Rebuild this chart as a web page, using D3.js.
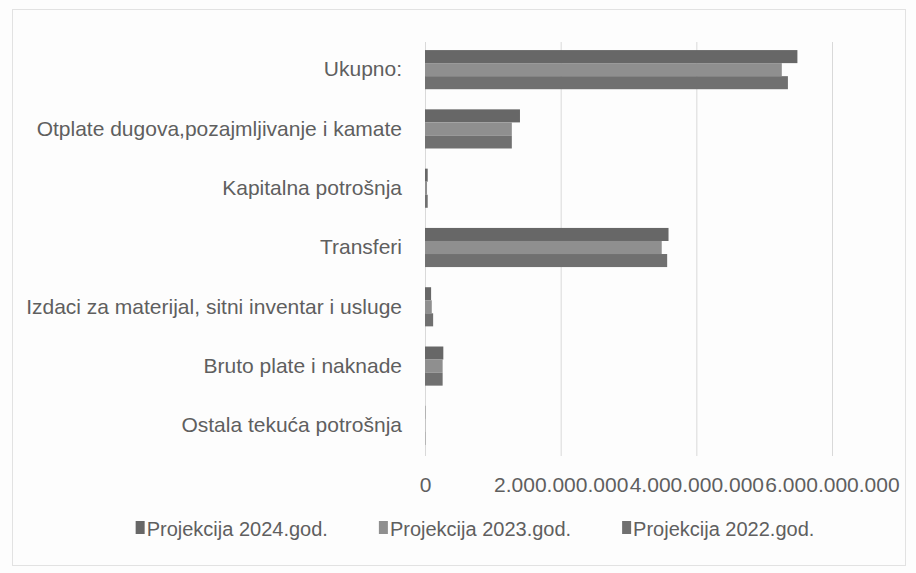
<!DOCTYPE html>
<html>
<head>
<meta charset="utf-8">
<script src="https://cdn.jsdelivr.net/npm/d3@7"></script>
<style>
  body { margin: 0; background: #fdfdfd; }
  text { font-family: "Liberation Sans", Arial, sans-serif; fill: #5f5f5f; }
</style>
</head>
<body>
<script>
'use strict';

// categories, top to bottom as in the chart
let categories = [
  'Ukupno:',
  'Otplate dugova,pozajmljivanje i kamate',
  'Kapitalna potrošnja',
  'Transferi',
  'Izdaci za materijal, sitni inventar i usluge',
  'Bruto plate i naknade',
  'Ostala tekuća potrošnja'
];

let seriesNames = ['Projekcija 2024.god.', 'Projekcija 2023.god.', 'Projekcija 2022.god.'];
let seriesColors = ['#676767', '#8f8f8f', '#707070'];

// values per category, same order as categories
let proj2024 = [5490000000, 1400000000, 40000000, 3590000000, 90000000, 270000000, 5000000];
let proj2023 = [5260000000, 1280000000, 30000000, 3490000000, 100000000, 260000000, 4000000];
let proj2022 = [5350000000, 1280000000, 40000000, 3570000000, 120000000, 260000000, 5000000];

let tickValues = [0, 2000000000, 4000000000, 6000000000];

let width = 916;
let height = 573;

let svg = d3.select('body').append('svg')
  .attr('width', width)
  .attr('height', height);

// faint frame of the chart area
svg.append('rect')
  .attr('x', 12.5)
  .attr('y', 9.5)
  .attr('width', 893)
  .attr('height', 556)
  .attr('fill', 'none')
  .attr('stroke', '#e2e2e2');

let x = d3.scaleLinear()
  .domain([0, 6000000000])
  .range([425, 832]);

let y0 = d3.scaleBand()
  .domain(categories)
  .range([40, 455])
  .paddingInner(0.34)
  .paddingOuter(0.17);

let y1 = d3.scaleBand()
  .domain(d3.range(seriesNames.length))
  .range([0, y0.bandwidth()]);

let fmt = (v) => d3.format(',')(v).replace(/,/g, '.');

// gridlines
svg.append('g')
  .attr('class', 'grid')
  .selectAll('line')
  .data(tickValues)
  .enter().append('line')
    .attr('x1', (d) => x(d) + 0.5)
    .attr('x2', (d) => x(d) + 0.5)
    .attr('y1', 42)
    .attr('y2', 456)
    .attr('stroke', '#d9d9d9')
    .attr('stroke-width', 1);

// x axis labels
let xAxis = d3.axisBottom(x)
  .tickValues(tickValues)
  .tickFormat(fmt)
  .tickSize(0)
  .tickPadding(0);

let xg = svg.append('g')
  .attr('transform', 'translate(0,477)')
  .call(xAxis);
xg.select('.domain').remove();
xg.selectAll('text')
  .attr('font-size', 21)
  .attr('font-family', '"Liberation Sans", Arial, sans-serif')
  .attr('fill', '#5f5f5f');

// category labels
let yAxis = d3.axisLeft(y0)
  .tickSize(0)
  .tickPadding(0);

let yg = svg.append('g')
  .attr('transform', 'translate(402,0)')
  .call(yAxis);
yg.select('.domain').remove();
yg.selectAll('text')
  .attr('font-size', 21)
  .attr('font-family', '"Liberation Sans", Arial, sans-serif')
  .attr('fill', '#5f5f5f');

// bars
let series = [proj2024, proj2023, proj2022];

let groups = svg.append('g')
  .attr('class', 'bars')
  .selectAll('g')
  .data(categories)
  .enter().append('g')
    .attr('transform', (d) => 'translate(0,' + y0(d) + ')');

groups.selectAll('rect')
  .data((d, i) => series.map((s, j) => ({s: j, v: s[i]})))
  .enter().append('rect')
    .attr('x', x(0))
    .attr('y', (d) => y1(d.s))
    .attr('width', (d) => x(d.v) - x(0))
    .attr('height', y1.bandwidth())
    .attr('fill', (d) => seriesColors[d.s]);

// legend
let legend = svg.append('g').attr('class', 'legend');
let items = legend.selectAll('g')
  .data(seriesNames)
  .enter().append('g');

items.append('rect')
  .attr('width', 9)
  .attr('height', 13)
  .attr('y', -15)
  .attr('fill', (d, i) => seriesColors[i]);

items.append('text')
  .attr('x', 11)
  .attr('font-size', 20)
  .text((d) => d);

let gap = 51;
let widths = [];
items.each(function() { widths.push(this.getBBox().width); });
let total = d3.sum(widths) + gap * (widths.length - 1);
let lx = 475 - total / 2;
items.attr('transform', (d, i) => {
  let t = 'translate(' + lx + ',536)';
  lx += widths[i] + gap;
  return t;
});
</script>
</body>
</html>
